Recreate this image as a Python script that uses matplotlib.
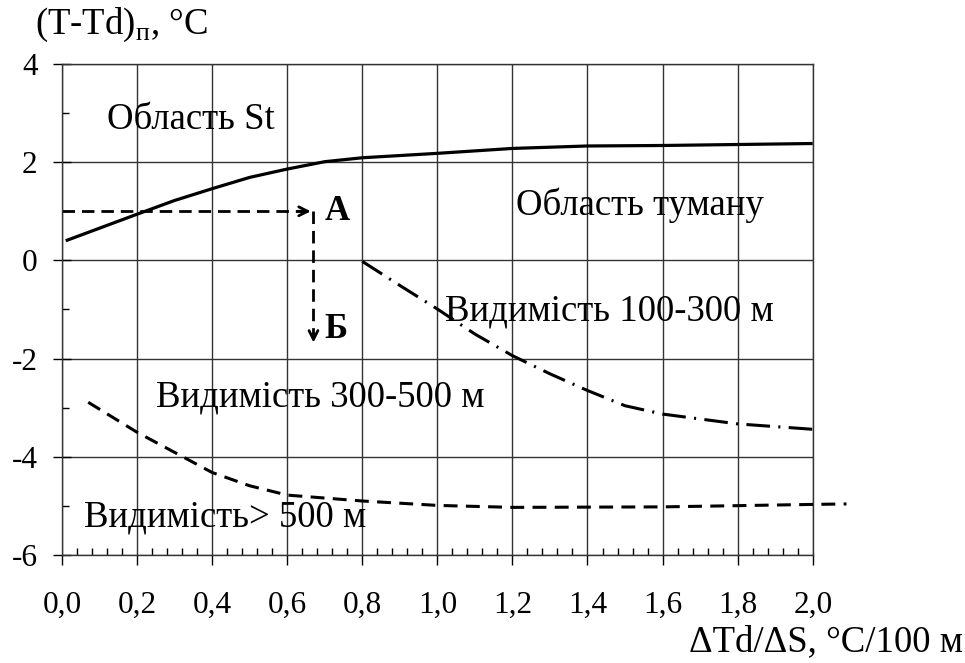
import numpy as np
import matplotlib
matplotlib.use('Agg')
import matplotlib.pyplot as plt
from matplotlib.ticker import MultipleLocator

plt.rcParams['font.family'] = ['Liberation Serif', 'DejaVu Serif']
plt.rcParams['mathtext.fontset'] = 'custom'
plt.rcParams['mathtext.rm'] = 'Liberation Serif'
plt.rcParams['lines.scale_dashes'] = False
plt.rcParams['axes.unicode_minus'] = False

# межа області St / туману
x_st = [0.01, 0.2, 0.3, 0.4, 0.5, 0.6, 0.7, 0.8, 1.0, 1.2, 1.4, 1.6, 1.8, 2.0]
y_st = [0.40, 0.94, 1.22, 1.46, 1.69, 1.86, 2.01, 2.09, 2.18, 2.28, 2.33, 2.34, 2.36, 2.38]

# межа видимості 100-300 м
x_100 = [0.80, 0.9, 1.0, 1.1, 1.2, 1.3, 1.4, 1.5, 1.6, 1.8, 2.0]
y_100 = [-0.02, -0.51, -0.99, -1.50, -1.94, -2.31, -2.65, -2.96, -3.13, -3.33, -3.44]

# межа видимості 300-500 м / > 500 м
x_500 = [0.07, 0.2, 0.3, 0.4, 0.5, 0.6, 0.7, 0.8, 1.0, 1.2, 1.6, 2.0, 2.09]
y_500 = [-2.89, -3.50, -3.91, -4.32, -4.59, -4.78, -4.84, -4.90, -4.99, -5.03, -5.02, -4.97, -4.96]

# приклад: точки А і Б
xa, ya = 0.67, 1.0
yb = -1.73

fig = plt.figure(figsize=(9.65, 6.63), dpi=100)
ax = fig.add_axes([0.0642, 0.1629, 0.778, 0.7406])

ax.plot(x_st, y_st, color='black', lw=2.3, solid_capstyle='butt')
ax.plot(x_100, y_100, color='black', lw=2.2, dashes=(17, 6, 1.5, 6))
ax.plot(x_500, y_500, color='black', lw=2.2, dashes=(10, 6), clip_on=False)

# стрілки
ax.plot([0, xa], [ya, ya], color='black', lw=2, dashes=(9, 5))
ax.annotate('', xy=(xa, ya), xytext=(xa - 0.05, ya),
            arrowprops=dict(arrowstyle='->', color='black', lw=2, mutation_scale=16))
ax.plot([xa, xa], [ya, yb + 0.15], color='black', lw=2, dashes=(9, 5))
ax.annotate('', xy=(xa, yb), xytext=(xa, yb + 0.3),
            arrowprops=dict(arrowstyle='->', color='black', lw=2, mutation_scale=16))
ax.text(xa + 0.03, ya, 'А', fontsize=25, fontweight='bold', va='center')
ax.text(xa + 0.03, -1.4, 'Б', fontsize=25, fontweight='bold', va='center')

fs = 26.5
ax.text(0.12, 2.86, 'Область St', fontsize=fs, va='center')
ax.text(1.21, 1.12, 'Область туману', fontsize=fs, va='center')
ax.text(1.02, -1.04, 'Видимість 100-300 м', fontsize=fs, va='center')
ax.text(0.25, -2.79, 'Видимість 300-500 м', fontsize=fs, va='center')
ax.text(0.06, -5.24, 'Видимість> 500 м', fontsize=fs, va='center')

ax.set_xlim(0, 2.0)
ax.set_ylim(-6, 4)
ax.xaxis.set_minor_locator(MultipleLocator(0.04))
ax.yaxis.set_major_locator(MultipleLocator(2))
ax.yaxis.set_minor_locator(MultipleLocator(1))
ax.set_xticks(np.arange(0, 2.01, 0.2))
ax.set_xticklabels([f'{v:.1f}'.replace('.', ',') for v in np.arange(0, 2.01, 0.2)])
tfs = 22.5
ax.tick_params(axis='x', which='major', direction='out', length=7, width=1, pad=19, labelsize=tfs)
ax.tick_params(axis='x', which='minor', direction='in', length=5, width=1)
ax.tick_params(axis='y', which='major', direction='inout', length=13, width=1, pad=11, labelsize=tfs)
ax.tick_params(axis='y', which='minor', direction='in', length=5, width=1)
ax.grid(True, which='major', color='#333333', lw=1)
for s in ax.spines.values():
    s.set_color('#333333')
    s.set_linewidth(1)

fig.text(35 / 965, 1 - 25 / 663, r'(T-Td)$_{\mathregular{п}}$, °C', fontsize=fs, va='center', ha='left')
fig.text(963 / 965, 1 - 642 / 663, 'ΔTd/ΔS, °C/100 м', fontsize=fs, va='center', ha='right')

fig.savefig('out.png', dpi=100)
